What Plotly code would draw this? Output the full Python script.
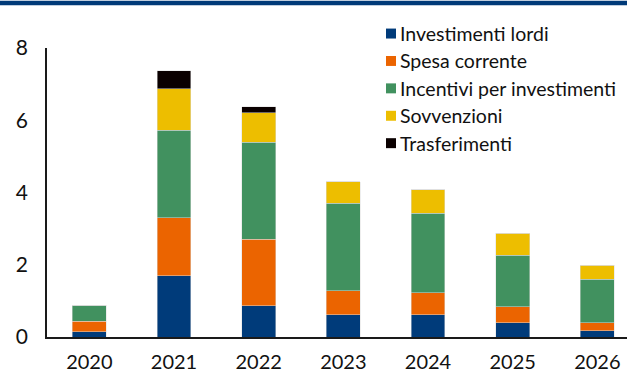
import plotly.graph_objects as go

years = ["2020", "2021", "2022", "2023", "2024", "2025", "2026"]
investimenti_lordi = [0.15, 1.70, 0.87, 0.61, 0.61, 0.39, 0.17]
spesa_corrente = [0.29, 1.60, 1.83, 0.67, 0.61, 0.45, 0.23]
incentivi = [0.44, 2.42, 2.69, 2.42, 2.20, 1.42, 1.20]
sovvenzioni = [0.0, 1.15, 0.82, 0.60, 0.65, 0.61, 0.39]
trasferimenti = [0.0, 0.50, 0.17, 0.0, 0.0, 0.0, 0.0]

series = [
    ("Investimenti lordi", investimenti_lordi, "#003B7A"),
    ("Spesa corrente", spesa_corrente, "#EB6400"),
    ("Incentivi per investimenti", incentivi, "#41915F"),
    ("Sovvenzioni", sovvenzioni, "#EDBE00"),
    ("Trasferimenti", trasferimenti, "#0A0000"),
]

W, H = 627, 372
ml, mr, mt, mb = 47, 0, 47.5, 34.5
ph = H - mt - mb
pw = W - ml - mr

font = "Lato, 'DejaVu Sans', sans-serif"
txtcol = "#111111"

fig = go.Figure()
for name, vals, col in series:
    fig.add_trace(go.Bar(
        x=years, y=vals, name=name, showlegend=False,
        marker=dict(color=col, line=dict(color="rgba(220,220,220,0.8)", width=0.6)),
    ))

def px_x(px):
    return (px - ml) / pw

def px_y(py):
    return (mt + ph - py) / ph

# top band
fig.add_shape(type="rect", xref="paper", yref="paper",
              x0=px_x(0), x1=1.0, y0=px_y(4.7), y1=px_y(0),
              fillcolor="#003A78", line=dict(width=0), layer="above")

# legend (swatch + label) drawn in paper space
row_y0, row_dy = 33.0, 27.5
for i, (name, vals, col) in enumerate(series):
    cy = row_y0 + i * row_dy
    fig.add_shape(type="rect", xref="paper", yref="paper",
                  x0=px_x(386), x1=px_x(396), y0=px_y(cy + 5), y1=px_y(cy - 5),
                  fillcolor=col, line=dict(width=0), layer="above")
    fig.add_annotation(xref="paper", yref="paper", x=px_x(397.5), y=px_y(cy),
                       xanchor="left", yanchor="middle", text=name, showarrow=False,
                       font=dict(family=font, size=19.5, color=txtcol))

fig.update_layout(
    width=W, height=H,
    margin=dict(l=ml, r=mr, t=mt, b=mb, pad=0, autoexpand=False),
    barmode="stack", bargap=0.6,
    plot_bgcolor="white", paper_bgcolor="white",
    font=dict(family=font, size=20, color=txtcol),
    showlegend=False,
    xaxis=dict(
        type="category", range=[-0.5, 6.35], automargin=False,
        showline=True, linecolor="#1a1a1a", linewidth=2,
        ticks="", showgrid=False, tickfont=dict(size=20),
        ticklabelstandoff=6,
    ),
    yaxis=dict(
        range=[0, 8], tickvals=[0, 2, 4, 6, 8], automargin=False,
        showline=True, linecolor="#1a1a1a", linewidth=1.5,
        ticks="", showgrid=False, zeroline=False, tickfont=dict(size=21),
        ticklabelstandoff=13,
    ),
)

fig.write_html("out.html")
